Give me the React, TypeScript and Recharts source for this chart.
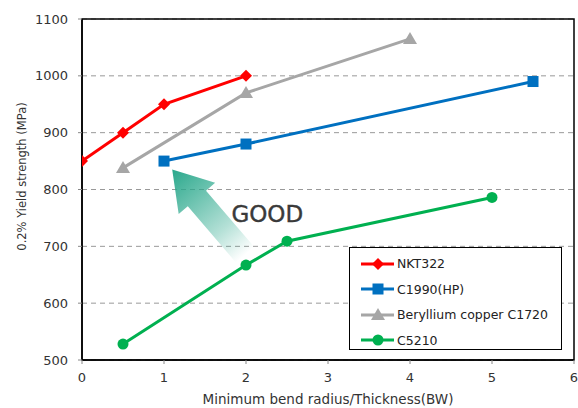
import {
  LineChart,
  Line,
  XAxis,
  YAxis,
  CartesianGrid,
  Legend,
  ReferenceArea,
  ReferenceLine,
  ReferenceDot,
} from "recharts";

const xTicks = [0, 1, 2, 3, 4, 5, 6];
const yTicks = [500, 600, 700, 800, 900, 1000, 1100];

const nktX = [0, 0.5, 1, 2];
const nktY = [850, 900, 950, 1000];
const c1990X = [1, 2, 5.5];
const c1990Y = [850, 880, 990];
const beCuX = [0.5, 2, 4];
const beCuY = [838, 970, 1065];
const c5210X = [0.5, 2, 2.5, 5];
const c5210Y = [528, 667, 709, 786];

// arrow annotation ("GOOD" direction), tail -> tip in data units
const arrowTail = { x: 1.99, y: 685 };
const arrowTip = { x: 1.1, y: 835 };
const goodPos = { x: 2.26, y: 757 };

const FONT = "'DejaVu Sans', sans-serif";

type Marker = "diamond" | "square" | "triangle" | "circle";

const series = [
  { name: "NKT322", color: "#ff0000", marker: "diamond" as Marker, xs: nktX, ys: nktY },
  { name: "C1990(HP)", color: "#0070c0", marker: "square" as Marker, xs: c1990X, ys: c1990Y },
  { name: "Beryllium copper C1720", color: "#a6a6a6", marker: "triangle" as Marker, xs: beCuX, ys: beCuY },
  { name: "C5210", color: "#00b050", marker: "circle" as Marker, xs: c5210X, ys: c5210Y },
];

function markerShape(kind: Marker, cx: number, cy: number, color: string, key?: string) {
  if (kind === "diamond") {
    const r = 6;
    return (
      <polygon key={key} points={`${cx},${cy - r} ${cx + r},${cy} ${cx},${cy + r} ${cx - r},${cy}`} fill={color} />
    );
  }
  if (kind === "square") {
    return <rect key={key} x={cx - 5.5} y={cy - 5.5} width={11} height={11} fill={color} />;
  }
  if (kind === "triangle") {
    return (
      <polygon key={key} points={`${cx},${cy - 7} ${cx + 7},${cy + 5} ${cx - 7},${cy + 5}`} fill={color} />
    );
  }
  return <circle key={key} cx={cx} cy={cy} r={5.5} fill={color} />;
}

function Arrow(props: any) {
  const { x1, y1, x2, y2 } = props;
  const dx = x2 - x1;
  const dy = y2 - y1;
  const len = Math.sqrt(dx * dx + dy * dy);
  const ux = dx / len;
  const uy = dy / len;
  const px = -uy;
  const py = ux;
  const headLen = 38;
  const headW = 24;
  const shaftW = 12;
  const bx = x2 - ux * headLen;
  const by = y2 - uy * headLen;
  const pts = [
    [x1 + px * shaftW, y1 + py * shaftW],
    [bx + px * shaftW, by + py * shaftW],
    [bx + px * headW, by + py * headW],
    [x2, y2],
    [bx - px * headW, by - py * headW],
    [bx - px * shaftW, by - py * shaftW],
    [x1 - px * shaftW, y1 - py * shaftW],
  ]
    .map((p) => p.join(","))
    .join(" ");
  return (
    <g>
      <defs>
        <linearGradient id="goodGrad" gradientUnits="userSpaceOnUse" x1={x1} y1={y1} x2={x2} y2={y2}>
          <stop offset="0" stopColor="#2aa88c" stopOpacity={0} />
          <stop offset="0.3" stopColor="#2aa88c" stopOpacity={0.35} />
          <stop offset="1" stopColor="#2aa88c" stopOpacity={1} />
        </linearGradient>
      </defs>
      <polygon points={pts} fill="url(#goodGrad)" />
    </g>
  );
}

function LegendBox() {
  return (
    <div
      style={{
        width: 213,
        height: 103,
        border: "1px solid #000",
        background: "#fff",
        boxSizing: "border-box",
        fontFamily: FONT,
        fontSize: 12.5,
        color: "#222",
        paddingTop: 3,
      }}
    >
      {series.map((s) => (
        <div key={s.name} style={{ display: "flex", alignItems: "center", height: 25.5 }}>
          <svg width={36} height={14} style={{ marginLeft: 10 }}>
            <line x1={1} y1={7} x2={34} y2={7} stroke={s.color} strokeWidth={3} />
            {markerShape(s.marker, 18, 7, s.color)}
          </svg>
          <span style={{ marginLeft: 1 }}>{s.name}</span>
        </div>
      ))}
    </div>
  );
}

export default function App() {
  return (
    <div style={{ position: "absolute", left: 0, top: 0, background: "#fff" }}>
      <LineChart width={578} height={408} margin={{ top: 19, right: 4, bottom: 0, left: 0 }}>
        <CartesianGrid horizontal vertical={false} stroke="#999" strokeDasharray="5 4" />
        <XAxis
          type="number"
          dataKey="x"
          domain={[0, 6]}
          ticks={xTicks}
          height={48}
          allowDataOverflow
          axisLine={{ stroke: "#000", strokeWidth: 1.5 }}
          tickLine={{ stroke: "#888" }}
          tickSize={4}
          tickMargin={9}
          tick={{ fill: "#333", fontSize: 13, fontFamily: FONT }}
          label={{
            content: ({ viewBox }: any) => (
              <text
                x={viewBox.x + viewBox.width / 2}
                y={viewBox.y + 44}
                textAnchor="middle"
                fontSize={13.5}
                fontFamily={FONT}
                fill="#333"
              >
                Minimum bend radius/Thickness(BW)
              </text>
            ),
          }}
        />
        <YAxis
          type="number"
          dataKey="y"
          width={82}
          domain={[500, 1100]}
          ticks={yTicks}
          allowDataOverflow
          axisLine={{ stroke: "#000", strokeWidth: 1.5 }}
          tickLine={{ stroke: "#888" }}
          tickSize={4}
          tickMargin={10}
          tick={{ fill: "#333", fontSize: 13, fontFamily: FONT }}
          label={{
            content: ({ viewBox }: any) => {
              const cx = 22;
              const cy = viewBox.y + viewBox.height / 2 - 13;
              return (
                <text
                  x={cx}
                  y={cy}
                  transform={`rotate(-90 ${cx} ${cy})`}
                  textAnchor="middle"
                  dominantBaseline="central"
                  fontSize={11.5}
                  fontFamily={FONT}
                  fill="#333"
                >
                  0.2% Yield strength (MPa)
                </text>
              );
            },
          }}
        />
        <ReferenceArea x1={0} x2={6} y1={500} y2={1100} fill="none" stroke="#000" strokeWidth={1.5} ifOverflow="visible" />
        <ReferenceLine
          segment={[arrowTail, arrowTip]}
          ifOverflow="visible"
          shape={(p: any) => <Arrow {...p} />}
        />
        <ReferenceDot
          x={goodPos.x}
          y={goodPos.y}
          r={0}
          fill="none"
          stroke="none"
          ifOverflow="visible"
          label={{
            content: ({ viewBox }: any) => (
              <text
                x={viewBox.x}
                y={viewBox.y + 8}
                textAnchor="middle"
                fontSize={23}
                fontFamily={FONT}
                fill="#3a3a3a"
                stroke="#3a3a3a"
                strokeWidth={0.4}
              >
                GOOD
              </text>
            ),
          }}
        />
        {series.map((s) => (
          <Line
            key={s.name}
            name={s.name}
            data={s.xs.map((x, i) => ({ x, y: s.ys[i] }))}
            dataKey="y"
            type="linear"
            stroke={s.color}
            strokeWidth={3}
            isAnimationActive={false}
            dot={(p: any) => markerShape(s.marker, p.cx, p.cy, s.color, `${s.name}-${p.index}`)}
            activeDot={false}
          />
        ))}
        <Legend
          layout="vertical"
          align="center"
          verticalAlign="middle"
          wrapperStyle={{ left: 349, top: 247, width: 213 }}
          content={() => <LegendBox />}
        />
      </LineChart>
    </div>
  );
}
